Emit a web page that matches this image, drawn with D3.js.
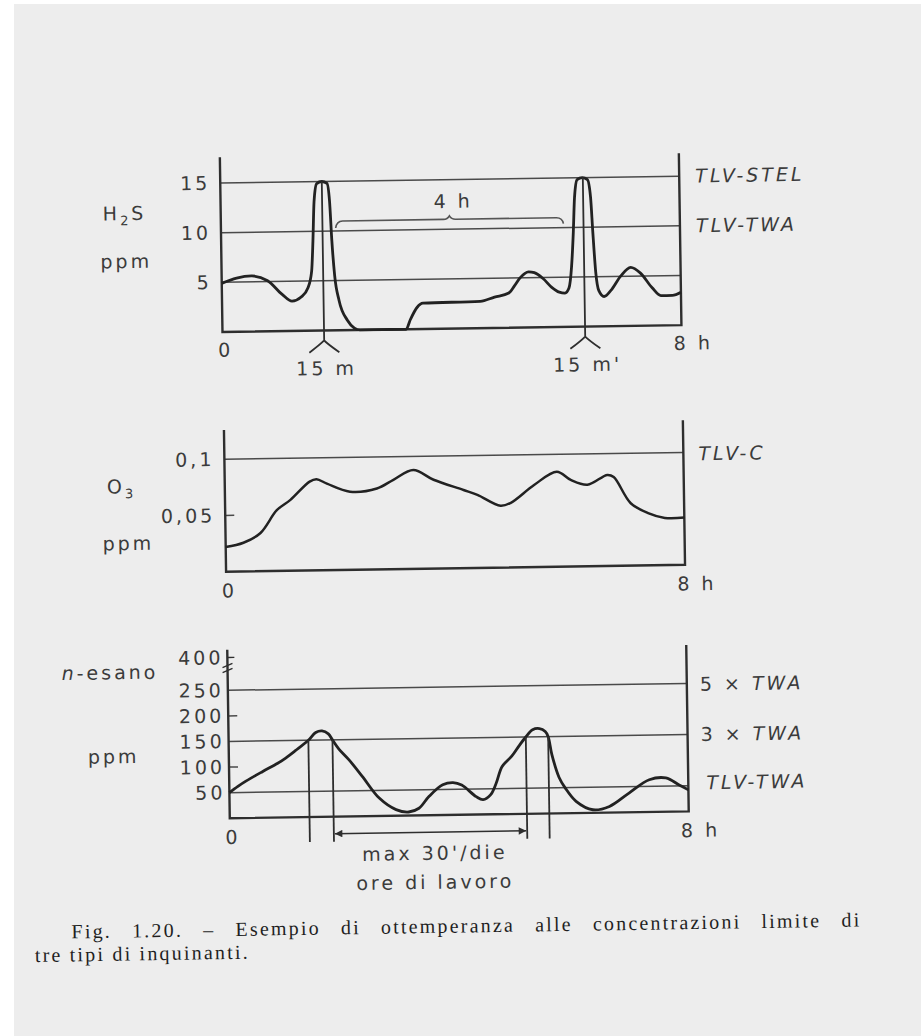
<!DOCTYPE html>
<html>
<head>
<meta charset="utf-8">
<script src="https://cdn.jsdelivr.net/npm/d3@7"></script>
<style>
  body { margin: 0; background: #fff; }
  .lab { font-family: "DejaVu Sans", sans-serif; font-size: 19px; letter-spacing: 3px; fill: #3b3b3b; }
  .cap { font-family: "Liberation Serif", serif; font-size: 20px; letter-spacing: 2.2px; fill: #1f1f1f; }
</style>
</head>
<body>
<script>
// time axis (hours of the work shift)
var hourTicks = [0, 8];

// H2S, ppm
var h2sHours = [0, 0.26, 0.52, 0.80, 1.05, 1.22, 1.38, 1.50, 1.57, 1.60, 1.63, 1.68, 1.77, 1.86, 1.90, 1.93, 1.97, 2.04, 2.18, 2.30,
  2.40, 3.20, 3.28, 3.40, 3.50, 4.50, 4.75, 5.00, 5.10, 5.20, 5.35, 5.45, 5.60, 5.75, 5.88, 5.98, 6.05, 6.10, 6.14, 6.17,
  6.22, 6.31, 6.40, 6.45, 6.48, 6.52, 6.57, 6.66, 6.78, 6.95, 7.13, 7.30, 7.50, 7.65, 7.85, 8.00];
var h2sPpm = [4.9, 5.4, 5.6, 5.1, 3.7, 3.0, 3.4, 4.3, 6.0, 9.0, 13.0, 14.8, 15.0, 14.8, 13.0, 9.0, 5.5, 3.0, 1.0, 0.2,
  0, 0, 1.0, 2.2, 2.6, 2.7, 3.1, 3.5, 4.2, 5.0, 5.6, 5.5, 4.9, 4.0, 3.5, 3.4, 3.9, 6.0, 9.5, 13.0,
  14.8, 15.0, 14.8, 13.0, 9.5, 5.5, 3.6, 3.0, 3.6, 5.0, 5.9, 5.3, 3.8, 3.0, 3.0, 3.3];
var h2sTicks = [5, 10, 15];
var h2sLimits = [15, 10];
var h2sLimitLabels = ["TLV-STEL", "TLV-TWA"];
var h2sPeaks = [1.77, 6.32];
var h2sPeakLabels = ["15 m", "15 m'"];
var h2sSpan = [2.0, 5.97];
var h2sSpanLabel = "4 h";

// O3, ppm
var o3Hours = [0, 0.31, 0.61, 0.90, 1.14, 1.48, 1.60, 1.78, 2.18, 2.65, 2.94, 3.29, 3.64, 4.16, 4.40, 4.80, 4.98, 5.39, 5.79, 6.03,
  6.32, 6.67, 6.78, 7.07, 7.37, 7.66, 8.00];
var o3Ppm = [0.022, 0.0255, 0.034, 0.054, 0.063, 0.079, 0.081, 0.077, 0.0695, 0.072, 0.0795, 0.088, 0.079, 0.0695, 0.065, 0.055, 0.0575, 0.073, 0.0845, 0.077,
  0.0725, 0.081, 0.079, 0.0555, 0.0465, 0.042, 0.042];
var o3Ticks = [0.05, 0.1];
var o3Limits = [0.1];
var o3LimitLabels = ["TLV-C"];

// n-esano, ppm
var hexHours = [0, 0.15, 0.29, 0.58, 0.85, 0.99, 1.16, 1.39, 1.52, 1.63, 1.74, 1.81, 1.92, 2.09, 2.32, 2.61, 2.90, 3.12, 3.30, 3.48,
  3.72, 3.90, 4.05, 4.30, 4.42, 4.55, 4.65, 4.76, 4.93, 5.06, 5.18, 5.30, 5.42, 5.52, 5.57, 5.63, 5.75, 5.85, 6.04, 6.33,
  6.62, 6.97, 7.32, 7.61, 7.84, 8.00];
var hexPpm = [50, 62, 72, 90, 106, 116, 130, 150, 165, 168, 162, 150, 132, 111, 78, 35, 12, 7, 14, 37,
  59, 63, 58, 35, 29, 38, 60, 93, 113, 133, 150, 164, 166, 160, 150, 115, 70, 50, 23, 6,
  12, 38, 63, 66, 52, 42];
var hexTicks = [50, 100, 150, 200, 250];
var hexLimits = [250, 150, 50];
var hexLimitLabels = ["5 × TWA", "3 × TWA", "TLV-TWA"];
var hexTopTick = 400;
var hexCross = [1.39, 1.81, 5.18, 5.57];
var hexSpanLabel = ["max 30'/die", "ore di lavoro"];

var caption = ["Fig. 1.20. – Esempio di ottemperanza alle concentrazioni limite di", "tre tipi di inquinanti."];

var W = 921, H = 1036;
var ink = "#2e2e2e";

var svg = d3.select("body").append("svg").attr("width", W).attr("height", H);
svg.append("rect").attr("width", W).attr("height", H).attr("fill", "#fff");
svg.append("rect").attr("x", 14).attr("y", 4).attr("width", W - 14).attr("height", H - 4).attr("fill", "#ededed");

svg.append("defs").append("marker")
  .attr("id", "ah")
  .attr("viewBox", "0 0 10 10")
  .attr("refX", 10).attr("refY", 5)
  .attr("markerWidth", 7).attr("markerHeight", 5)
  .attr("orient", "auto-start-reverse")
  .append("path").attr("d", "M0,0L10,5L0,10z").attr("fill", ink);

// the scanned page is slightly skewed: draw everything in one rotated group
var fig = svg.append("g").attr("transform", "rotate(-0.86,225,500)");

var x = d3.scaleLinear().domain([0, 8]).range([225, 684]);
var yH2s = d3.scaleLinear().domain([0, 15]).range([332, 183]);
var yO3 = d3.scaleLinear().domain([0, 0.1]).range([571.7, 459.3]);
var yHex = d3.scaleLinear().domain([0, 250]).range([818.3, 690.3]);

function frame(y, topL, topR) {
  fig.append("path")
    .attr("d", "M" + x(0) + "," + y(topL) + "V" + y(0) + "H" + x(8) + "V" + y(topR))
    .attr("fill", "none")
    .attr("stroke", ink)
    .attr("stroke-width", 2.4);
}

function grid(y, vals) {
  fig.selectAll(null).data(vals).enter().append("line")
    .attr("x1", x(0)).attr("x2", x(8))
    .attr("y1", function (d) { return y(d); })
    .attr("y2", function (d) { return y(d); })
    .attr("stroke", "#4a4a4a")
    .attr("stroke-width", 1.5);
}

function shortTicks(y, vals) {
  fig.selectAll(null).data(vals).enter().append("line")
    .attr("x1", x(0)).attr("x2", x(0) + 9)
    .attr("y1", function (d) { return y(d); })
    .attr("y2", function (d) { return y(d); })
    .attr("stroke", "#4a4a4a")
    .attr("stroke-width", 1.5);
}

function leftLabels(y, vals, fmt, pad) {
  var ax = fig.append("g")
    .attr("transform", "translate(" + x(0) + ",0)")
    .call(d3.axisLeft(y).tickValues(vals).tickSize(0).tickPadding(pad).tickFormat(fmt));
  ax.attr("font-size", null).attr("font-family", null);
  ax.select(".domain").remove();
  ax.selectAll("text").attr("class", "lab");
}

function hourLabels(y, below) {
  fig.selectAll(null).data(hourTicks).enter().append("text")
    .attr("class", "lab")
    .attr("x", function (d) { return d === 0 ? x(d) + 3 : x(d) - 8; })
    .attr("y", y(0) + below)
    .attr("dy", "0.35em")
    .attr("text-anchor", function (d) { return d === 0 ? "middle" : "start"; })
    .text(function (d) { return d === 0 ? "0" : d + " h"; });
}

function limitLabels(y, vals, labels, dx, dys) {
  vals.forEach(function (v, i) {
    var t = fig.append("text")
      .attr("class", "lab")
      .attr("x", x(8) + dx[i])
      .attr("y", y(v) + dys[i])
      .attr("dy", "0.35em");
    var m = labels[i].match(/^(\d+ × )(.*)$/);
    if (m) {
      t.append("tspan").text(m[1]);
      t.append("tspan").attr("font-style", "italic").text(m[2]);
    } else {
      t.attr("font-style", "italic").text(labels[i]);
    }
  });
}

function curve(y, hours, vals, kind, w) {
  fig.append("path")
    .datum(d3.zip(hours, vals))
    .attr("d", d3.line()
      .x(function (d) { return x(d[0]); })
      .y(function (d) { return y(d[1]); })
      .curve(kind))
    .attr("fill", "none")
    .attr("stroke", "#222")
    .attr("stroke-width", w)
    .attr("stroke-linejoin", "round");
}

function title(px, py, parts) {
  var t = fig.append("text").attr("class", "lab").attr("x", px).attr("y", py).attr("dy", "0.35em");
  parts.forEach(function (p) {
    var s = t.append("tspan").text(p[0]);
    if (p[1] === "sub") s.attr("font-size", "13px").attr("dy", 5);
    if (p[1] === "up") s.attr("dy", -5);
    if (p[1] === "it") s.attr("font-style", "italic");
  });
}

// ---- H2S panel
grid(yH2s, h2sTicks);
frame(yH2s, 17.6, 17.3);
leftLabels(yH2s, h2sTicks, d3.format("d"), 10);
hourLabels(yH2s, 18);
limitLabels(yH2s, h2sLimits, h2sLimitLabels, [16, 16], [0, 0]);
title(107, 212, [["H"], ["2", "sub"], ["S", "up"]]);
title(104, 260, [["ppm"]]);
curve(yH2s, h2sHours, h2sPpm, d3.curveMonotoneX, 2.8);

h2sPeaks.forEach(function (h, i) {
  var px = x(h), b = yH2s(0);
  fig.append("path")
    .attr("d", "M" + px + "," + yH2s(15) + "V" + (b + 10) +
      "M" + (px - 15) + "," + (b + 22) + "Q" + (px - 4) + "," + (b + 14) + " " + px + "," + (b + 10) +
      "Q" + (px + 4) + "," + (b + 14) + " " + (px + 15) + "," + (b + 22))
    .attr("fill", "none").attr("stroke", ink).attr("stroke-width", 1.8);
  fig.append("text")
    .attr("class", "lab")
    .attr("x", px + 2).attr("y", b + 38).attr("dy", "0.35em")
    .attr("text-anchor", "middle")
    .text(h2sPeakLabels[i]);
});

var bx0 = x(h2sSpan[0]), bx1 = x(h2sSpan[1]), bm = (bx0 + bx1) / 2, by = yH2s(11);
fig.append("path")
  .attr("d", "M" + bx0 + "," + yH2s(10.3) + "Q" + (bx0 + 1) + "," + by + " " + (bx0 + 7) + "," + by +
    "H" + (bm - 6) + "Q" + (bm - 2) + "," + by + " " + bm + "," + (by - 3.5) +
    "Q" + (bm + 2) + "," + by + " " + (bm + 6) + "," + by +
    "H" + (bx1 - 7) + "Q" + (bx1 - 1) + "," + by + " " + bx1 + "," + yH2s(10.4))
  .attr("fill", "none").attr("stroke", "#555").attr("stroke-width", 1.6);
fig.append("text")
  .attr("class", "lab")
  .attr("x", bm + 4).attr("y", by - 18).attr("dy", "0.35em")
  .attr("text-anchor", "middle")
  .text(h2sSpanLabel);

// ---- O3 panel
grid(yO3, o3Limits);
shortTicks(yO3, [0.05]);
frame(yO3, 0.126, 0.1287);
leftLabels(yO3, o3Ticks, function (d) { return String(d).replace(".", ","); }, 10);
hourLabels(yO3, 19);
limitLabels(yO3, o3Limits, o3LimitLabels, [15], [1.5]);
title(107, 485, [["O"], ["3", "sub"]]);
title(102, 542, [["ppm"]]);
curve(yO3, o3Hours, o3Ppm, d3.curveCatmullRom.alpha(0.5), 2.5);

// ---- n-esano panel
grid(yHex, hexLimits);
shortTicks(yHex, hexTicks.filter(function (d) { return hexLimits.indexOf(d) < 0; }));
frame(yHex, 329, 325);
leftLabels(yHex, hexTicks, d3.format("d"), 4);
hourLabels(yHex, 19);
limitLabels(yHex, hexLimits, hexLimitLabels, [13, 13, 18], [1, 0, -3]);
title(59, 671, [["n", "it"], ["-esano"]]);
title(84, 755, [["ppm"]]);

// axis is broken above 250: the 400 label sits just above the break
var yTop = yHex(314);
fig.append("text")
  .attr("class", "lab")
  .attr("x", x(0) - 4).attr("y", yTop).attr("dy", "0.35em")
  .attr("text-anchor", "end")
  .text(hexTopTick);
fig.append("path")
  .attr("d", "M" + x(0) + "," + yTop + "h7" +
    "M" + (x(0) - 5) + "," + (yTop + 10) + "l10,-4" +
    "M" + (x(0) - 5) + "," + (yTop + 15) + "l10,-4")
  .attr("fill", "none").attr("stroke", ink).attr("stroke-width", 1.4);

curve(yHex, hexHours, hexPpm, d3.curveCatmullRom.alpha(0.5), 2.8);

fig.selectAll(null).data(hexCross).enter().append("line")
  .attr("x1", function (d) { return x(d); })
  .attr("x2", function (d) { return x(d); })
  .attr("y1", yHex(150))
  .attr("y2", yHex(0) + 25)
  .attr("stroke", ink)
  .attr("stroke-width", 1.8);

var ay = yHex(0) + 17;
fig.append("line")
  .attr("x1", x(hexCross[1]) + 1).attr("x2", x(hexCross[2]) - 1)
  .attr("y1", ay).attr("y2", ay)
  .attr("stroke", ink).attr("stroke-width", 1.5)
  .attr("marker-start", "url(#ah)")
  .attr("marker-end", "url(#ah)");

var amid = (x(hexCross[1]) + x(hexCross[2])) / 2 + 4;
hexSpanLabel.forEach(function (s, i) {
  fig.append("text")
    .attr("class", "lab")
    .attr("x", amid).attr("y", yHex(0) + 38 + i * 29).attr("dy", "0.35em")
    .attr("text-anchor", "middle")
    .text(s);
});

// ---- caption: first line justified by stretching the word gaps
var cap1 = fig.append("text")
  .attr("class", "cap")
  .attr("x", 65).attr("y", 936)
  .text(caption[0]);
var gaps = caption[0].split(" ").length - 1;
var extra = (790 - cap1.node().getComputedTextLength()) / gaps;
cap1.attr("word-spacing", Math.max(0, extra));
fig.append("text")
  .attr("class", "cap")
  .attr("x", 28).attr("y", 959)
  .text(caption[1]);
</script>
</body>
</html>
